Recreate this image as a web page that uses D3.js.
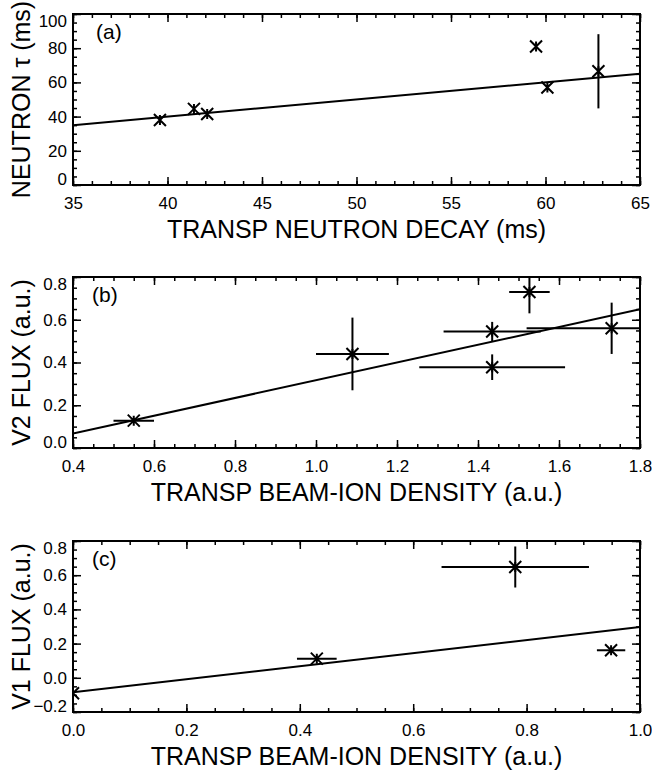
<!DOCTYPE html>
<html>
<head>
<meta charset="utf-8">
<script src="https://cdn.jsdelivr.net/npm/d3@7"></script>
<style>
body { margin: 0; background: #fff; }
svg { display: block; }
text { font-family: "Liberation Sans", Arial, Helvetica, sans-serif; fill: #000; }
</style>
</head>
<body>
<svg></svg>
<script>
// panel (a) : neutron decay time
const aX = [39.6, 41.4, 42.1, 59.5, 60.1, 62.8];
const aY = [38.0, 44.5, 41.5, 81.0, 57.0, 66.5];
const aXErr = [0, 0, 0, 0, 0, 0];
const aYErr = [0, 0, 0, 0, 0, 21.7];
const aFitX = [35, 65];
const aFitY = [35, 65];
const aXTicks = [35, 40, 45, 50, 55, 60, 65];
const aYTicks = [0, 20, 40, 60, 80, 100];

// panel (b) : V2 flux
const bX = [0.55, 1.09, 1.435, 1.435, 1.527, 1.73];
const bY = [0.128, 0.44, 0.545, 0.378, 0.73, 0.56];
const bXErr = [0.05, 0.09, 0.12, 0.18, 0.05, 0.21];
const bYErr = [0, 0.17, 0.045, 0.06, 0.1, 0.12];
const bFitX = [0.4, 1.8];
const bFitY = [0.068, 0.649];
const bXTicks = [0.4, 0.6, 0.8, 1.0, 1.2, 1.4, 1.6, 1.8];
const bYTicks = [0.0, 0.2, 0.4, 0.6, 0.8];

// panel (c) : V1 flux
const cX = [0.0, 0.43, 0.78, 0.949];
const cY = [-0.09, 0.112, 0.648, 0.161];
const cXErr = [0, 0.035, 0.13, 0.025];
const cYErr = [0, 0, 0.12, 0];
const cFitX = [0, 1];
const cFitY = [-0.085, 0.297];
const cXTicks = [0.0, 0.2, 0.4, 0.6, 0.8, 1.0];
const cYTicks = [-0.2, 0.0, 0.2, 0.4, 0.6, 0.8];

const width = 652, height = 770;
const left = 73, right = 640;

const svg = d3.select("svg").attr("width", width).attr("height", height);

const panels = [
    { id: "a", top: 14, bottom: 185, xs: aX, ys: aY, xe: aXErr, ye: aYErr, fx: aFitX, fy: aFitY,
      xTicks: aXTicks, yTicks: aYTicks, xMinor: 1, yMinor: 5, xFmt: d3.format("d"), yFmt: d3.format("d"),
      label: "(a)", labelX: 96, xTitle: "TRANSP NEUTRON DECAY (ms)", yTitle: "NEUTRON \u03c4 (ms)" },
    { id: "b", top: 277, bottom: 448, xs: bX, ys: bY, xe: bXErr, ye: bYErr, fx: bFitX, fy: bFitY,
      xTicks: bXTicks, yTicks: bYTicks, xMinor: 0.05, yMinor: 0.05, xFmt: d3.format(".1f"), yFmt: d3.format(".1f"),
      label: "(b)", labelX: 92, xTitle: "TRANSP BEAM-ION DENSITY (a.u.)", yTitle: "V2 FLUX (a.u.)" },
    { id: "c", top: 541, bottom: 712, xs: cX, ys: cY, xe: cXErr, ye: cYErr, fx: cFitX, fy: cFitY,
      xTicks: cXTicks, yTicks: cYTicks, xMinor: 0.05, yMinor: 0.05, xFmt: d3.format(".1f"), yFmt: d3.format(".1f"),
      label: "(c)", labelX: 92, xTitle: "TRANSP BEAM-ION DENSITY (a.u.)", yTitle: "V1 FLUX (a.u.)" }
];

function minorTicks(ticks, step) {
    const lo = ticks[0], hi = ticks[ticks.length - 1];
    const n = Math.round((hi - lo) / step);
    return d3.range(n + 1).map(i => lo + i * step);
}

function styleAxis(sel, fontSize) {
    sel.select(".domain").remove();
    sel.selectAll(".tick line").attr("stroke", "#000").attr("stroke-width", 1.5);
    sel.selectAll(".tick text").attr("font-size", fontSize).attr("font-family", null);
}

panels.forEach(p => {
    const x = d3.scaleLinear().domain([p.xTicks[0], p.xTicks[p.xTicks.length - 1]]).range([left, right]);
    const y = d3.scaleLinear().domain([p.yTicks[0], p.yTicks[p.yTicks.length - 1]]).range([p.bottom, p.top]);
    const g = svg.append("g").attr("id", "panel-" + p.id);

    g.append("clipPath").attr("id", "clip-" + p.id)
        .append("rect").attr("x", left).attr("y", p.top)
        .attr("width", right - left).attr("height", p.bottom - p.top);

    const xm = minorTicks(p.xTicks, p.xMinor);
    const ym = minorTicks(p.yTicks, p.yMinor);

    // axes, ticks pointing inward on all four sides
    g.append("g").attr("transform", `translate(0,${p.bottom})`)
        .call(d3.axisBottom(x).tickValues(xm).tickSize(-4).tickFormat(""))
        .call(styleAxis, 17);
    g.append("g").attr("transform", `translate(0,${p.bottom})`)
        .call(d3.axisBottom(x).tickValues(p.xTicks).tickSize(-8).tickPadding(12).tickFormat(p.xFmt))
        .call(styleAxis, 17);
    g.append("g").attr("transform", `translate(0,${p.top})`)
        .call(d3.axisTop(x).tickValues(xm).tickSize(-4).tickFormat(""))
        .call(styleAxis, 17);
    g.append("g").attr("transform", `translate(0,${p.top})`)
        .call(d3.axisTop(x).tickValues(p.xTicks).tickSize(-8).tickFormat(""))
        .call(styleAxis, 17);

    g.append("g").attr("transform", `translate(${left},0)`)
        .call(d3.axisLeft(y).tickValues(ym).tickSize(-4).tickFormat(""))
        .call(styleAxis, 17);
    const yl = g.append("g").attr("transform", `translate(${left},0)`)
        .call(d3.axisLeft(y).tickValues(p.yTicks).tickSize(-8).tickPadding(6).tickFormat(p.yFmt))
        .call(styleAxis, 17);
    g.append("g").attr("transform", `translate(${right},0)`)
        .call(d3.axisRight(y).tickValues(ym).tickSize(-4).tickFormat(""))
        .call(styleAxis, 17);
    g.append("g").attr("transform", `translate(${right},0)`)
        .call(d3.axisRight(y).tickValues(p.yTicks).tickSize(-8).tickFormat(""))
        .call(styleAxis, 17);

    // end labels pushed inside the frame
    const yt = yl.selectAll(".tick text");
    const nT = yt.size();
    yt.attr("transform", (d, i) => i === 0 ? "translate(0,-6)" : (i === nT - 1 ? "translate(0,7)" : null));

    // frame
    g.append("rect").attr("x", left).attr("y", p.top)
        .attr("width", right - left).attr("height", p.bottom - p.top)
        .attr("fill", "none").attr("stroke", "#000").attr("stroke-width", 2);

    const plot = g.append("g").attr("clip-path", `url(#clip-${p.id})`);

    // fit line
    plot.append("line")
        .attr("x1", x(p.fx[0])).attr("y1", y(p.fy[0]))
        .attr("x2", x(p.fx[1])).attr("y2", y(p.fy[1]))
        .attr("stroke", "#000").attr("stroke-width", 2);

    const pts = p.xs.map((v, i) => ({ x: v, y: p.ys[i], xe: p.xe[i], ye: p.ye[i] }));

    // error bars
    plot.selectAll(".xerr").data(pts.filter(d => d.xe > 0)).join("line")
        .attr("x1", d => x(d.x - d.xe)).attr("x2", d => x(d.x + d.xe))
        .attr("y1", d => y(d.y)).attr("y2", d => y(d.y))
        .attr("stroke", "#000").attr("stroke-width", 2);
    plot.selectAll(".yerr").data(pts.filter(d => d.ye > 0)).join("line")
        .attr("x1", d => x(d.x)).attr("x2", d => x(d.x))
        .attr("y1", d => y(d.y - d.ye)).attr("y2", d => y(d.y + d.ye))
        .attr("stroke", "#000").attr("stroke-width", 2);

    // asterisk markers
    const s = 6;
    plot.selectAll(".mark").data(pts).join("path")
        .attr("d", d => {
            const cx = x(d.x), cy = y(d.y);
            return `M${cx - s},${cy - s}L${cx + s},${cy + s}M${cx - s},${cy + s}L${cx + s},${cy - s}` +
                `M${cx},${cy - s + 1}L${cx},${cy + s - 1}`;
        })
        .attr("fill", "none").attr("stroke", "#000").attr("stroke-width", 2);

    // labels
    g.append("text").attr("x", p.labelX).attr("y", p.top + 25)
        .attr("font-size", 21).text(p.label);
    g.append("text").attr("x", (left + right) / 2).attr("y", p.bottom + 53)
        .attr("text-anchor", "middle").attr("font-size", 25).text(p.xTitle);
    g.append("text")
        .attr("transform", `translate(30,${(p.top + p.bottom) / 2}) rotate(-90)`)
        .attr("text-anchor", "middle").attr("font-size", 25).text(p.yTitle);
});
</script>
</body>
</html>
